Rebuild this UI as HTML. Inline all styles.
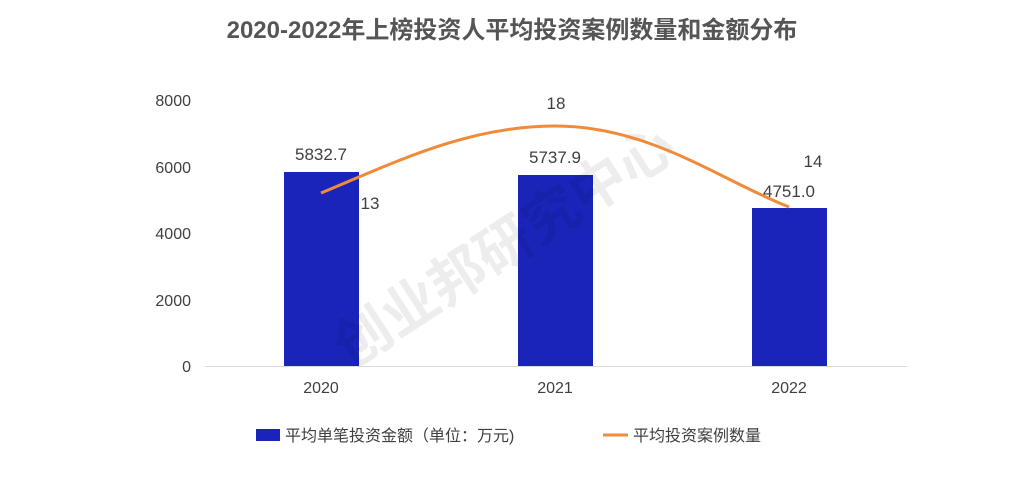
<!DOCTYPE html>
<html><head><meta charset="utf-8"><style>
body{margin:0;background:#fff;}
svg text{font-family:"Liberation Sans","Noto Sans CJK SC",sans-serif;}
</style></head><body>
<svg width="1024" height="486" viewBox="0 0 1024 486" xmlns="http://www.w3.org/2000/svg">
<rect width="1024" height="486" fill="#fff"/>
<text x="512" y="38" text-anchor="middle" font-size="24" font-weight="bold" fill="#555">2020-2022年上榜投资人平均投资案例数量和金额分布</text>
<g font-size="16" fill="#404040" text-anchor="end">
<text x="191" y="106">8000</text>
<text x="191" y="173">6000</text>
<text x="191" y="239">4000</text>
<text x="191" y="306">2000</text>
<text x="191" y="372">0</text>
</g>
<line x1="205" y1="366.5" x2="907" y2="366.5" stroke="#d9d9d9" stroke-width="1"/>
<rect x="284" y="172" width="75" height="194" fill="#1a24b8"/>
<rect x="518" y="175" width="75" height="191" fill="#1a24b8"/>
<rect x="752" y="208" width="75" height="158" fill="#1a24b8"/>
<text transform="translate(515,262) rotate(-33)" text-anchor="middle" font-size="56" font-weight="bold" fill="#000" fill-opacity="0.07">创业邦研究中心</text>
<path d="M321,193 C400,160 470,126 555,126 C650,126 720,180 789,207" fill="none" stroke="#f08b3a" stroke-width="3"/>
<g font-size="17" fill="#404040" text-anchor="middle">
<text x="321" y="160">5832.7</text>
<text x="555" y="163">5737.9</text>
<text x="789" y="197">4751.0</text>
<text x="370" y="209">13</text>
<text x="556" y="109">18</text>
<text x="813" y="167">14</text>
</g>
<g font-size="16" fill="#404040" text-anchor="middle">
<text x="321" y="393">2020</text>
<text x="555" y="393">2021</text>
<text x="789" y="393">2022</text>
</g>
<rect x="256" y="429" width="24" height="12" fill="#1a24b8"/>
<text x="285" y="441" font-size="16" fill="#404040">平均单笔投资金额（单位：万元)</text>
<line x1="603" y1="435" x2="628" y2="435" stroke="#f08b3a" stroke-width="3"/>
<text x="633" y="441" font-size="16" fill="#404040">平均投资案例数量</text>
</svg>
</body></html>
